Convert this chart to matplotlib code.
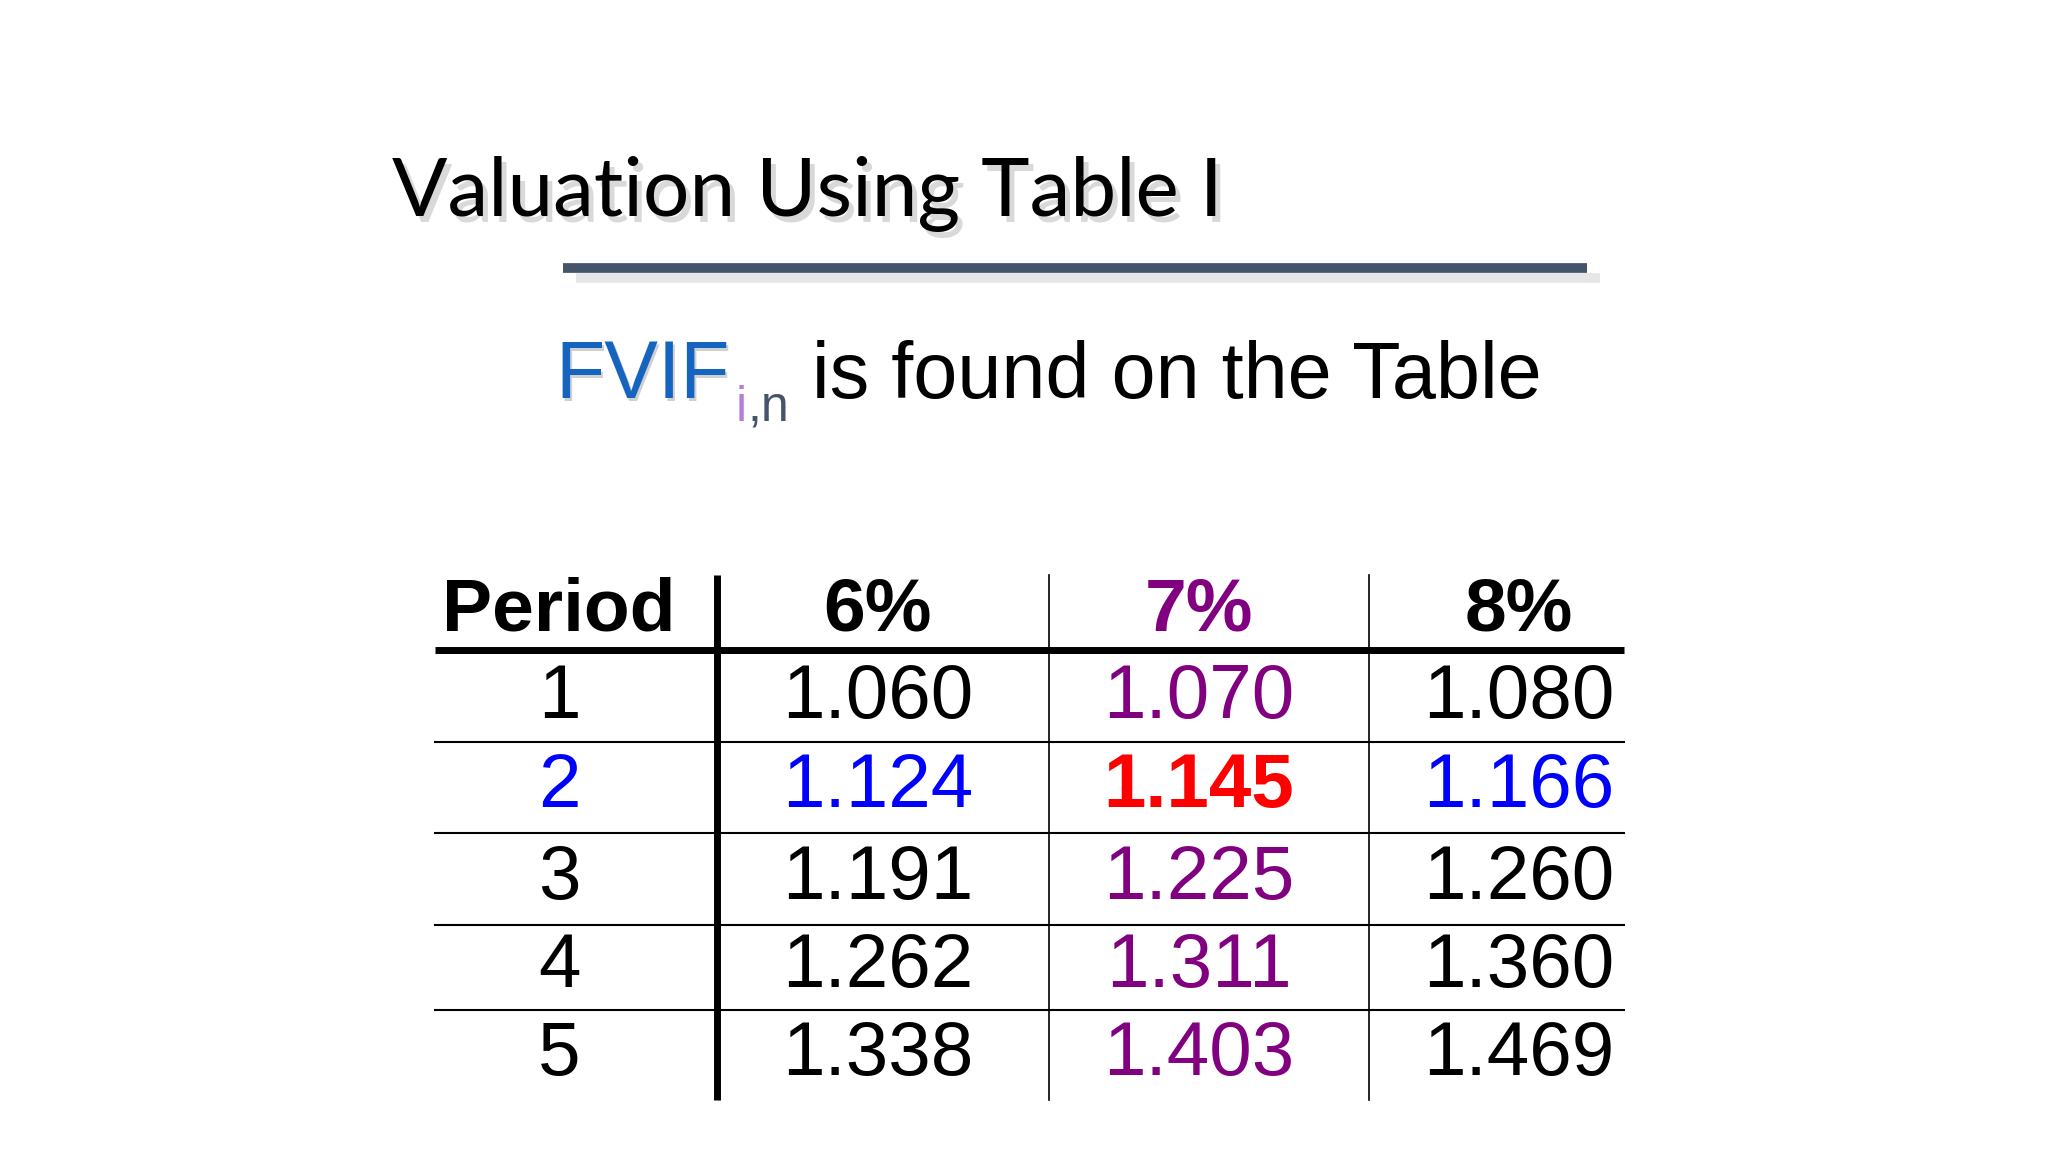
import matplotlib.pyplot as plt

# table data
periods = ['1', '2', '3', '4', '5']
rates = ['6%', '7%', '8%']
fvif_6 = ['1.060', '1.124', '1.191', '1.262', '1.338']
fvif_7 = ['1.070', '1.145', '1.225', '1.311', '1.403']
fvif_8 = ['1.080', '1.166', '1.260', '1.360', '1.469']
highlight_row = 1  # period 2

W, H = 1568, 882
fig = plt.figure(figsize=(20.48, 11.52), dpi=100)
ax = fig.add_axes([0, 0, 1, 1])
ax.set_xlim(0, W)
ax.set_ylim(H, 0)
ax.axis('off')

# title with soft shadow
title = 'Valuation Using Table I'
ax.text(304, 170, title, fontsize=59, family='Lato', color='#d9d9d9', va='baseline')
ax.text(300, 165, title, fontsize=59, family='Lato', color='black', va='baseline')

# underline bar with shadow
ax.plot([441, 1225], [213, 213], color='#e6e6e6', lw=7, solid_capstyle='butt')
ax.plot([431, 1215], [205, 205], color='#44546A', lw=7, solid_capstyle='butt')

# subtitle
sf = 'Liberation Sans'
ax.text(427, 307, 'FVIF', fontsize=58, family=sf, color='#d0d0d0', va='baseline')
ax.text(425, 305, 'FVIF', fontsize=58, family=sf, color='#1565C0', va='baseline')
ax.text(563, 322, 'i', fontsize=36, family=sf, color='#B57EDC', va='baseline')
ax.text(572, 322, ',n', fontsize=36, family=sf, color='#44546A', va='baseline')
ax.text(622, 305, 'is found on the Table', fontsize=57, family=sf, color='black', va='baseline')

# table geometry
left, right = 333, 1243
col_x = [428, 672, 918, 1163]
header_y = 468
row_y = [535, 603, 673, 741, 808]
top, bottom = 440, 842

ax.plot([left, right], [498, 498], color='black', lw=5, solid_capstyle='butt')
for y in [568, 638, 708, 773]:
    ax.plot([left, right], [y, y], color='black', lw=1.5)
ax.plot([549, 549], [top, bottom], color='black', lw=5, solid_capstyle='butt')
for x in [803, 1048]:
    ax.plot([x, x], [top, bottom], color='black', lw=1.2)

hdr_colors = ['black', '#800080', 'black']
ax.text(col_x[0], header_y, 'Period', fontsize=54, family=sf, weight='bold',
        ha='center', va='center')
for j, r in enumerate(rates):
    ax.text(col_x[j + 1], header_y, r, fontsize=54, family=sf, weight='bold',
            color=hdr_colors[j], ha='center', va='center')

cols = [fvif_6, fvif_7, fvif_8]
for i, p in enumerate(periods):
    hl = i == highlight_row
    ax.text(col_x[0], row_y[i], p, fontsize=55, family=sf,
            color='#0000FF' if hl else 'black', ha='center', va='center')
    for j, vals in enumerate(cols):
        color = 'black'
        weight = 'normal'
        if j == 1:
            color = '#800080'
        if hl:
            color = '#0000FF'
            if j == 1:
                color, weight = '#FF0000', 'bold'
        ax.text(col_x[j + 1], row_y[i], vals[i], fontsize=55, family=sf,
                color=color, weight=weight, ha='center', va='center')

fig.savefig('out.png', dpi=100)
